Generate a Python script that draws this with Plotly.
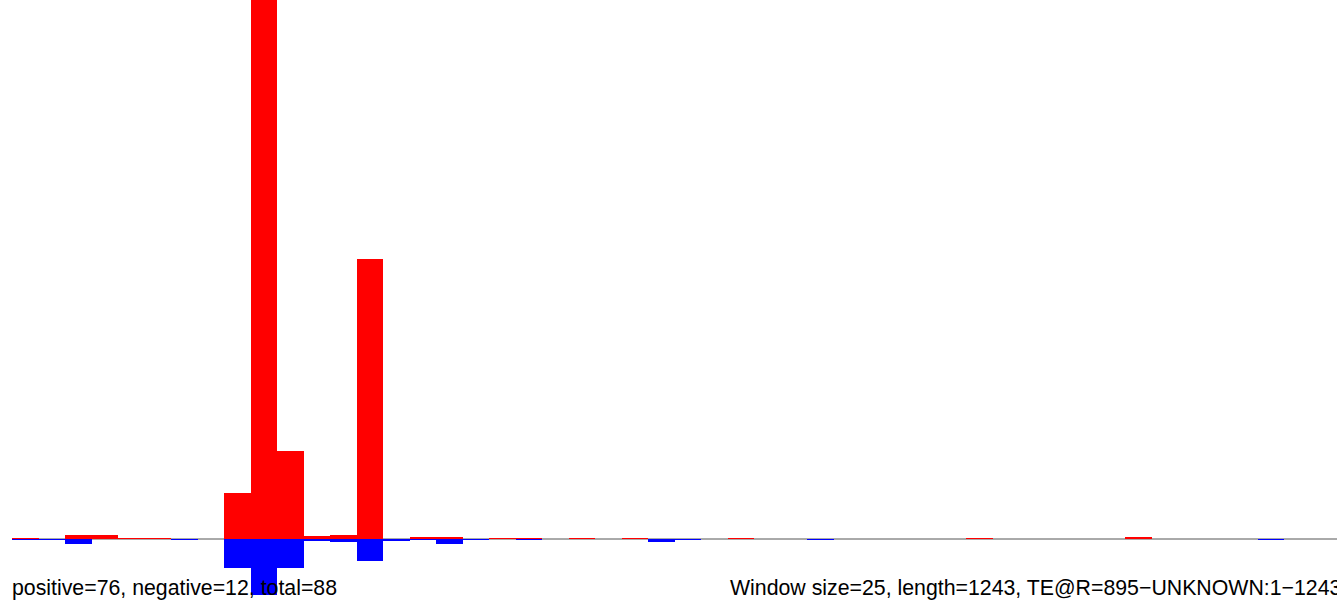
import plotly.graph_objects as go

# Window bins (window size 25, sequence length 1243)
bin_index = list(range(50))
window_size = 25

positive_vals = [1, 0, 4, 4, 1, 1, 0, 0, 46, 700, 88, 3, 4, 280, 0, 1.5, 2, 0, 1, 1,
                 0, 1, 0, 1, 0, 0, 0, 1, 0, 0, 0, 0, 0, 0, 0, 0, 1, 0, 0, 0,
                 0, 0, 2, 0, 0, 0, 0, 0, 0, 0]
negative_vals = [1, 1, 5, 0, 0, 0, 1, 0, 29, 56, 29, 2, 3, 22, 1.5, 1, 5, 1, 0, 1,
                 0, 0, 0, 0, 3, 1, 0, 0, 0, 0, 1, 0, 0, 0, 0, 0, 0, 0, 0, 0,
                 0, 0, 0, 0, 0, 0, 0, 1, 0, 0]

left_label = "positive=76, negative=12, total=88"
right_label = "Window size=25, length=1243, TE@R=895\u2212UNKNOWN:1\u22121243"

x_centers = [i * window_size + window_size / 2 for i in bin_index]

W, H = 1337, 600
fig = go.Figure()
fig.add_trace(go.Bar(x=x_centers, y=positive_vals, width=window_size,
                     marker=dict(color="#FF0000", line=dict(width=0)),
                     showlegend=False, hoverinfo="skip"))
fig.add_trace(go.Bar(x=x_centers, y=[-v for v in negative_vals], width=window_size,
                     marker=dict(color="#0000FF", line=dict(width=0)),
                     showlegend=False, hoverinfo="skip"))

fig.add_shape(type="line", x0=0, x1=1250, y0=0, y1=0, xref="x", yref="y",
              line=dict(color="#555555", width=1), layer="below")

font = dict(family="Liberation Sans, Arial", size=21.3, color="#000000")
fig.add_annotation(text=left_label, xref="paper", yref="paper",
                   x=10 / W, y=(600 - 588) / H, xanchor="left", yanchor="middle",
                   showarrow=False, font=font)
fig.add_annotation(text=right_label, xref="paper", yref="paper",
                   x=728 / W, y=(600 - 588) / H, xanchor="left", yanchor="middle",
                   showarrow=False, font=font)

x_left = -12 / 26.5 * window_size
fig.update_layout(
    width=W, height=H,
    margin=dict(l=0, r=0, t=0, b=0),
    paper_bgcolor="white", plot_bgcolor="white",
    barmode="relative", bargap=0,
    xaxis=dict(range=[x_left, 1250], visible=False, fixedrange=True),
    yaxis=dict(range=[-61, 539], visible=False, fixedrange=True),
)

fig.write_html("out.html", config={"displayModeBar": False},
               post_script="document.body.style.margin='0';document.body.style.overflow='hidden';")
